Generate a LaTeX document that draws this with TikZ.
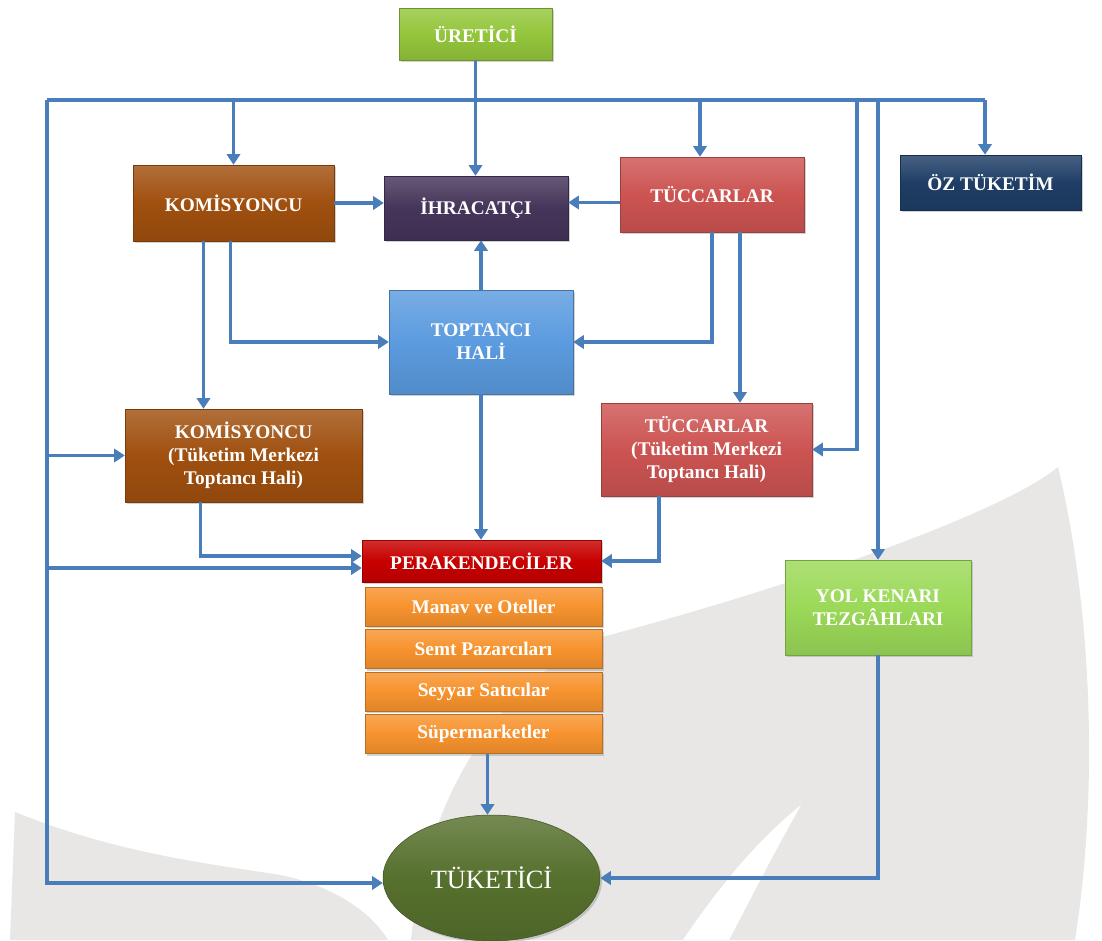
\documentclass[tikz,border=0pt]{standalone}
\usepackage{fontspec}
\setmainfont{Liberation Serif}
\usetikzlibrary{arrows.meta,calc,shadows,shapes.geometric}

\definecolor{okmavi}{HTML}{4A7EBB}
\definecolor{yaprak}{HTML}{E8E7E6}
\definecolor{ureticirenk}{HTML}{94C63C}
\definecolor{komisrenk}{HTML}{A0500F}
\definecolor{ihracrenk}{HTML}{45355A}
\definecolor{tuccarrenk}{HTML}{CC5452}
\definecolor{ozrenk}{HTML}{1F3E66}
\definecolor{toptanrenk}{HTML}{5B9BDF}
\definecolor{perakrenk}{HTML}{C80000}
\definecolor{turuncu}{HTML}{F7932E}
\definecolor{yolrenk}{HTML}{9BD958}
\definecolor{tukrenk}{HTML}{56702D}

\begin{document}
\begin{tikzpicture}[x=0.02cm,y=-0.02cm,
  kutu/.style={rectangle, inner sep=1pt, align=center, text=white,
    font=\fontsize{11}{13}\selectfont\bfseries, draw=#1!75!black, line width=0.3pt,
    top color=#1!82!white, bottom color=#1!90!black, middle color=#1,
    drop shadow={shadow xshift=1.2pt, shadow yshift=-1.2pt, opacity=0.35}},
  ok/.style={draw=okmavi, line width=2.2pt},
  oka/.style={ok, -{Triangle[width=7.5pt,length=6pt]}}]

\fill[white] (0,0) rectangle (1102,940);
\useasboundingbox (0,0) rectangle (1102,940);

% Arka plan yapraklari
\fill[yaprak] (1058,467) .. controls (1000,515) and (780,590) .. (602,637)
  .. controls (500,680) and (425,800) .. (411,940) -- (1075,940)
  .. controls (1100,780) and (1090,600) .. (1058,467) -- cycle;
\fill[white] (801,805) .. controls (770,860) and (750,900) .. (729,940) -- (683,940)
  .. controls (730,870) and (770,830) .. (801,805) -- cycle;
\fill[yaprak] (15,812) .. controls (120,855) and (220,865) .. (280,875)
  .. controls (330,885) and (370,910) .. (388,940) -- (10,940) -- cycle;

% Kutular
\node[kutu=ureticirenk, minimum width=3.06cm, minimum height=1.04cm] (uretici) at (475.5,34) {ÜRETİCİ};
\node[kutu=ozrenk, minimum width=3.62cm, minimum height=1.10cm] (ozt) at (990.5,182.5) {ÖZ TÜKETİM};
\node[kutu=tuccarrenk, minimum width=3.68cm, minimum height=1.50cm] (tuccar) at (712,194.5) {TÜCCARLAR};
\node[kutu=ihracrenk, minimum width=3.68cm, minimum height=1.28cm] (ihracat) at (476,208) {İHRACATÇI};
\node[kutu=komisrenk, minimum width=4.02cm, minimum height=1.52cm] (komis) at (233.5,203) {KOMİSYONCU};
\node[kutu=toptanrenk, minimum width=3.68cm, minimum height=2.08cm] (toptanci) at (481,342) {TOPTANCI\\HALİ};
\node[kutu=komisrenk, minimum width=4.74cm, minimum height=1.86cm] (komis2) at (243.5,455.5)
  {KOMİSYONCU\\(Tüketim Merkezi\\Toptancı Hali)};
\node[kutu=tuccarrenk, minimum width=4.22cm, minimum height=1.86cm] (tuccar2) at (706.5,449.5)
  {TÜCCARLAR\\(Tüketim Merkezi\\Toptancı Hali)};
\node[kutu=perakrenk, minimum width=4.78cm, minimum height=0.84cm] (perak) at (481.5,561) {PERAKENDECİLER};
\foreach \t [count=\i] in {Manav ve Oteller, Semt Pazarcıları, Seyyar Satıcılar, Süpermarketler}
  \node[kutu=turuncu, minimum width=4.74cm, minimum height=0.78cm] (s\i) at (483.5,564+42.5*\i) {\t};
\node[kutu=yolrenk, minimum width=3.72cm, minimum height=1.90cm] (yol) at (878,607.5) {YOL KENARI\\TEZGÂHLARI};
\node[kutu=tukrenk, ellipse, minimum width=4.34cm, minimum height=2.52cm,
  font=\fontsize{15}{17}\selectfont] (tuketici) at (491.5,878) {TÜKETİCİ};

% Dagitim hatti
\coordinate (tl) at (47,100);
\coordinate (tr) at (985,100);
\coordinate (t2) at (857,100);
\draw[ok] (tl) -- (tr);
\draw[oka] (uretici.south) -- (uretici.south |- ihracat.north);
\draw[oka] (tl -| komis.north) -- (komis.north);
\draw[oka] (tl -| {$(tuccar.north)+(-12,0)$}) -- ($(tuccar.north)+(-12,0)$);
\draw[oka] (tr) -- (tr |- ozt.north);
\draw[oka] (t2) |- (tuccar2.east);
\draw[oka] (tl -| yol.north) -- (yol.north);
\draw[oka] (tl) |- ($(tuketici.west)+(0,5)$);
\draw[oka] (tl |- komis2.west) -- (komis2.west);
\draw[oka] (tl |- {$(perak.west)+(0,7)$}) -- ($(perak.west)+(0,7)$);

% Ara baglantilar
\draw[oka] (komis.east) -- (komis.east -| ihracat.west);
\draw[oka] ($(tuccar.west)+(0,8)$) -- ({$(tuccar.west)+(0,8)$} -| ihracat.east);
\draw[oka] (toptanci.north) -- (toptanci.north |- ihracat.south);
\draw[oka] ($(komis.south)+(-30,0)$) -- ({$(komis.south)+(-30,0)$} |- komis2.north);
\draw[oka] ($(komis.south)+(-3,0)$) |- (toptanci.west);
\draw[oka] (tuccar.south) |- (toptanci.east);
\draw[oka] ($(tuccar.south)+(28,0)$) -- ({$(tuccar.south)+(28,0)$} |- tuccar2.north);
\draw[oka] (toptanci.south) -- (toptanci.south |- perak.north);
\draw[oka] ($(komis2.south)+(-43,0)$) |- ($(perak.west)+(0,-5)$);
\draw[oka] ($(tuccar2.south)+(-47.5,0)$) |- (perak.east);
\draw[oka] ($(s4.south)+(4,0)$) -- ({$(s4.south)+(4,0)$} |- tuketici.north);
\draw[oka] (yol.south) |- (tuketici.east);

\end{tikzpicture}
\end{document}
